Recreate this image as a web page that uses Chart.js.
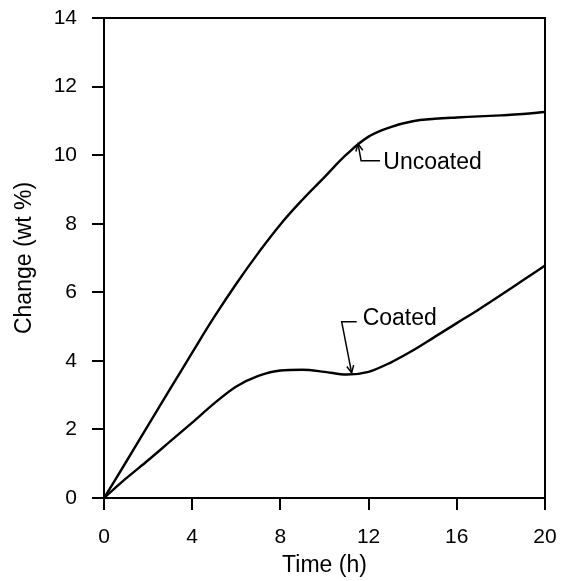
<!DOCTYPE html>
<html>
<head>
<meta charset="utf-8">
<script src="https://cdn.jsdelivr.net/npm/chart.js@4.4.1/dist/chart.umd.min.js"></script>
<style>html,body{margin:0;background:#fff}canvas{display:block}</style>
</head>
<body>
<canvas id="chart" width="571" height="581"></canvas>
<script>
// weight change vs time
const hours    = [0, 1, 2, 3, 4, 5, 6, 7, 8, 9, 10, 11, 12, 13, 14, 15, 16, 17, 18, 19, 20];
const uncoated = [0, 1.05, 2.12, 3.18, 4.24, 5.28, 6.25, 7.15, 7.98, 8.7, 9.36, 10.02, 10.54, 10.82, 10.99, 11.06, 11.1, 11.13, 11.16, 11.2, 11.26];
const coated   = [0, 0.57, 1.1, 1.65, 2.2, 2.76, 3.25, 3.56, 3.72, 3.74, 3.68, 3.6, 3.68, 3.95, 4.3, 4.7, 5.1, 5.5, 5.92, 6.35, 6.78];
const xTicks = [0, 4, 8, 12, 16, 20];
const yTicks = [0, 2, 4, 6, 8, 10, 12, 14];

// callouts (data units): arrow tip, elbow, end of leader, label start
const noteText  = ["Uncoated", "Coated"];
const noteTip   = [[11.52, 10.33], [11.23, 3.65]];
const noteElbow = [[11.66, 9.84], [10.78, 5.14]];
const noteLead  = [12.52, 11.46];
const noteLabel = [[12.67, 9.79], [11.73, 5.24]];

const FONT = "'Liberation Sans', Arial, Helvetica, sans-serif";
const pts = vals => hours.map((h, i) => ({ x: h, y: vals[i] }));

const frame = {
  id: "frame",
  afterDatasetsDraw(chart) {
    const { ctx, chartArea: a, scales: { x, y } } = chart;
    const px = p => [x.getPixelForValue(p[0]), y.getPixelForValue(p[1])];
    ctx.save();
    ctx.strokeStyle = "#000"; ctx.fillStyle = "#000";
    // top + right border
    ctx.lineWidth = 2;
    ctx.beginPath(); ctx.moveTo(a.left, a.top); ctx.lineTo(a.right, a.top); ctx.lineTo(a.right, a.bottom); ctx.stroke();
    // callouts
    ctx.lineWidth = 1.5;
    ctx.font = `23px ${FONT}`; ctx.textBaseline = "middle"; ctx.textAlign = "left";
    noteText.forEach((t, i) => {
      const [tx, ty] = px(noteTip[i]), [ex, ey] = px(noteElbow[i]);
      const lx = x.getPixelForValue(noteLead[i]);
      ctx.beginPath(); ctx.moveTo(lx, ey); ctx.lineTo(ex, ey); ctx.lineTo(tx, ty); ctx.stroke();
      // open arrow head
      const ang = Math.atan2(ey - ty, ex - tx), len = 8, spread = 0.45;
      ctx.beginPath();
      ctx.moveTo(tx + len * Math.cos(ang - spread), ty + len * Math.sin(ang - spread));
      ctx.lineTo(tx, ty);
      ctx.lineTo(tx + len * Math.cos(ang + spread), ty + len * Math.sin(ang + spread));
      ctx.stroke();
      const [nx, ny] = px(noteLabel[i]);
      ctx.fillText(t, nx, ny);
    });
    ctx.restore();
  }
};

const axisLook = { grid: { drawOnChartArea: false, drawTicks: true, tickLength: 12, color: "#000", lineWidth: 2 },
                   border: { color: "#000", width: 2 } };

new Chart(document.getElementById("chart"), {
  type: "line",
  data: {
    datasets: [
      { label: "Uncoated", data: pts(uncoated), borderColor: "#000", borderWidth: 2.4, pointRadius: 0, tension: 0.4, fill: false },
      { label: "Coated", data: pts(coated), borderColor: "#000", borderWidth: 2.4, pointRadius: 0, cubicInterpolationMode: "monotone", fill: false }
    ]
  },
  options: {
    responsive: false, animation: false, devicePixelRatio: 1,
    layout: { padding: { left: 0, top: 18, right: 26, bottom: 0 } },
    plugins: { legend: { display: false }, tooltip: { enabled: false } },
    scales: {
      x: {
        type: "linear", min: 0, max: 20, ...axisLook,
        afterBuildTicks: s => { s.ticks = xTicks.map(v => ({ value: v })); },
        afterFit: s => { s.height = 83; s.paddingLeft = 0; s.paddingRight = 0; },
        ticks: { color: "#000", padding: 15, maxRotation: 0, font: { family: FONT, size: 21 } },
        title: { display: true, text: "Time (h)", color: "#000", font: { family: FONT, size: 23 }, padding: { top: 0, bottom: 2 } }
      },
      y: {
        type: "linear", min: 0, max: 14, ...axisLook,
        afterBuildTicks: s => { s.ticks = yTicks.map(v => ({ value: v })); },
        afterFit: s => { s.width = 104; s.paddingTop = 0; s.paddingBottom = 0; },
        ticks: { color: "#000", padding: 15, font: { family: FONT, size: 21 } },
        title: { display: true, text: "Change (wt %)", color: "#000", font: { family: FONT, size: 23 }, padding: { top: 11, bottom: 0 } }
      }
    }
  },
  plugins: [frame]
});
</script>
</body>
</html>
